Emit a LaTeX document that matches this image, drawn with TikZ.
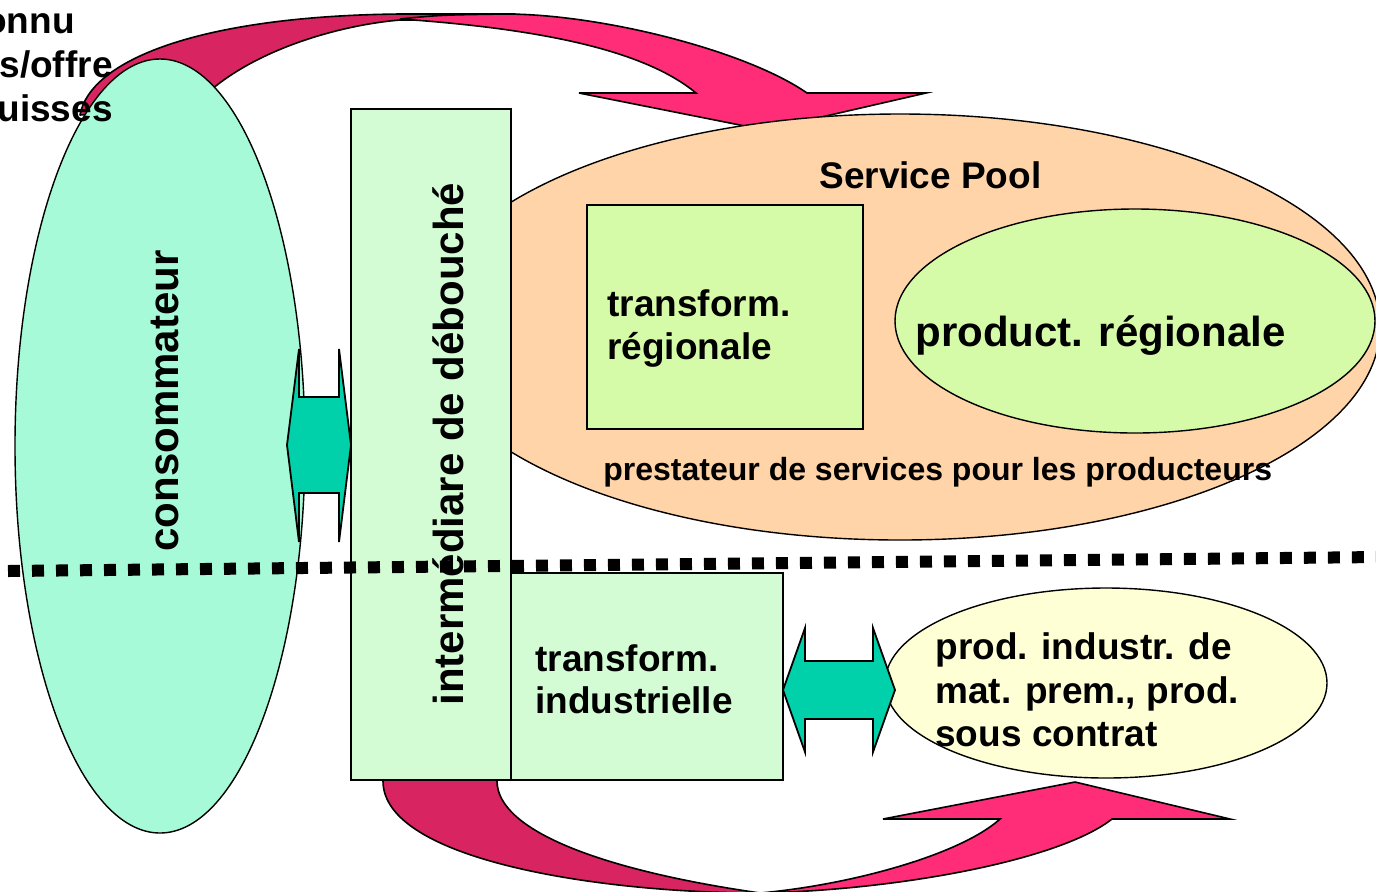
\documentclass[tikz,border=0pt]{standalone}
\usepackage{fontspec}
\setmainfont{Liberation Sans}
\usetikzlibrary{shapes.geometric}
\definecolor{consc}{HTML}{A6FAD8}
\definecolor{interc}{HTML}{D4FCD4}
\definecolor{peach}{HTML}{FFD4A8}
\definecolor{lime}{HTML}{D6FBA8}
\definecolor{cream}{HTML}{FFFFD6}
\definecolor{tealc}{HTML}{00D1AA}
\definecolor{arrdark}{HTML}{D92462}
\definecolor{arrlight}{HTML}{FF2D78}
\begin{document}
\begin{tikzpicture}[x=0.5pt,y=-0.5pt,
  outl/.style={draw=black,line width=0.7pt},
  ell/.style={outl,ellipse,inner sep=0pt,outer sep=0pt},
  rbox/.style={outl,rectangle,inner sep=0pt,outer sep=0pt,anchor=north west},
  txt/.style={inner sep=0pt,anchor=base west,font=\bfseries\fontsize{18.5}{22}\selectfont},
  bigtxt/.style={inner sep=0pt,anchor=base west,font=\bfseries\fontsize{21}{25}\selectfont},
  smalltxt/.style={inner sep=0pt,anchor=base west,font=\bfseries\fontsize{16}{19}\selectfont},
  backarrow/.style={outl,line width=0.8pt,fill=arrdark,line join=round},
  frontarrow/.style={outl,line width=0.8pt,fill=arrlight,line join=miter},
  tealarrow/.style={outl,line width=0.9pt,fill=tealc,line join=miter},
  dotline/.style={line width=6pt,dash pattern=on 6pt off 6pt}]
\useasboundingbox (0,0) rectangle (1376,891);
\clip (0,0) rectangle (1376,891);
% top curved arrow
\path[backarrow] (80,115) .. controls (90,60) and (200,16) .. (400,14) -- (515,14) -- (515,20) -- (400,20) .. controls (340,25) and (250,50) .. (200,100) -- (150,108) -- (95,114) -- cycle;
\path[frontarrow] (400,19) .. controls (440,15) .. (505,14) .. controls (600,14) and (745,50) .. (807,93) -- (926,93) -- (765,130) -- (579,93) -- (696,93) .. controls (650,55) and (560,30) .. (400,19) -- cycle;
% bottom curved arrow
\path[backarrow] (383,770) -- (383,781) .. controls (383,860) and (600,893) .. (760,893) .. controls (600,870) and (497,830) .. (497,781) -- (497,770) -- cycle;
\path[frontarrow] (760,893) .. controls (900,890) and (1060,860) .. (1112,819) -- (1230,819) -- (1075,782) -- (883,819) -- (1000,819) .. controls (960,855) and (850,885) .. (760,893) -- cycle;
% shapes
\node[ell,fill=consc,minimum width=145pt,minimum height=387pt] (cons) at (160,446) {};
\node[ell,fill=peach,minimum width=480pt,minimum height=213pt] (pool) at (900,327) {};
\node[rbox,fill=interc,minimum width=80pt,minimum height=335.5pt] (inter) at (351,109) {};
\node[rbox,fill=lime,minimum width=138pt,minimum height=112pt] (treg) at (587,205) {};
\node[ell,fill=lime,minimum width=240pt,minimum height=112pt] (preg) at (1135,321) {};
\node[rbox,fill=interc,minimum width=136pt,minimum height=103.5pt] (tind) at (511,573) {};
\node[ell,fill=cream,minimum width=221pt,minimum height=95pt] (pind) at (1106,683) {};
% double arrows
\path[tealarrow] (287,445) -- (299,349) -- (299,397) -- (339,397) -- (339,349) -- (351,445) -- (339,542) -- (339,493) -- (299,493) -- (299,542) -- cycle;
\path[tealarrow] (783,690) -- (805,628) -- (805,661) -- (873,661) -- (873,628) -- (895,690) -- (873,752) -- (873,719) -- (805,719) -- (805,752) -- cycle;
% dotted separator
\draw[dotline] (8,571) -- (1380,557);
% texts
\node[txt,anchor=base east] (t1) at (75,33) {onnu};
\node[txt,anchor=base east] (t2) at (113,77) {s/offre};
\node[txt,anchor=base east] (t3) at (113,121) {uisses};
\node[txt] (sp) at (819,188) {Service Pool};
\node[txt] (tr1) at (607,316) {transform.};
\node[txt] (tr2) at (607,359) {régionale};
\node[bigtxt] (pr) at (915,346) {product. régionale};
\node[smalltxt] (pre) at (603,480) {prestateur de services pour les producteurs};
\node[txt] (ti1) at (535,671) {transform.};
\node[txt] (ti2) at (535,713) {industrielle};
\node[txt] (pi1) at (935,659) {prod. industr. de};
\node[txt] (pi2) at (935,703) {mat. prem., prod.};
\node[txt] (pi3) at (935,746) {sous contrat};
\node[bigtxt,rotate=90] (ct) at (178,552) {consommateur};
\node[bigtxt,rotate=90] (it) at (463,706) {intermédiare de débouché};
\end{tikzpicture}
\end{document}
